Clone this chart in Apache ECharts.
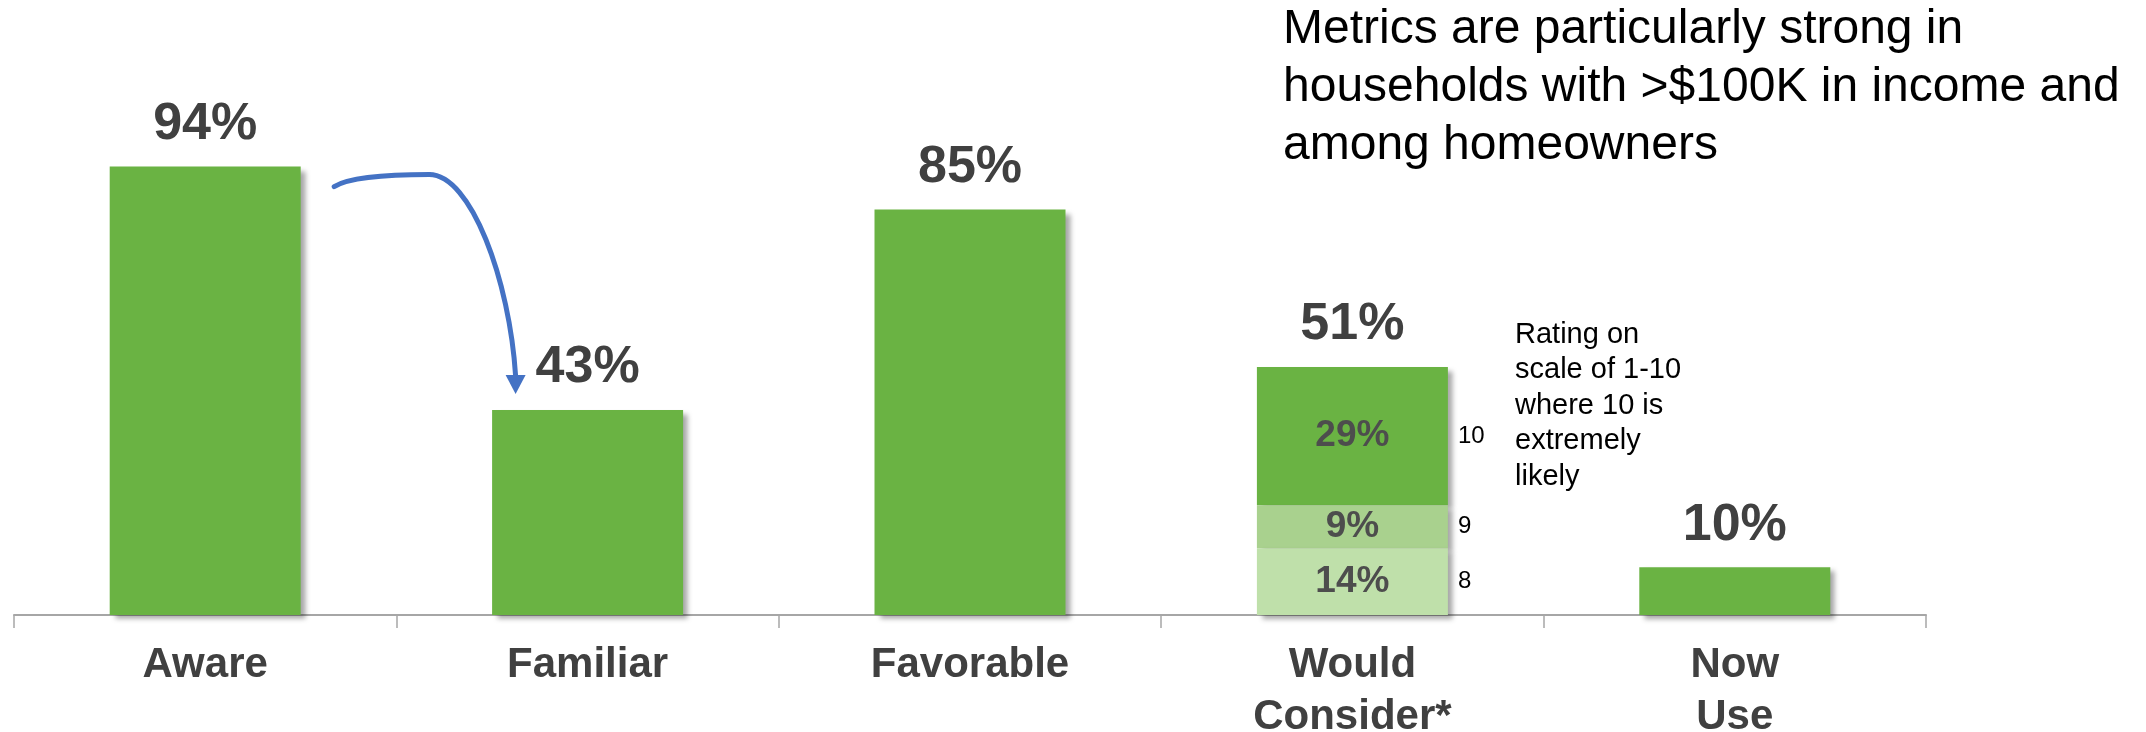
<!DOCTYPE html>
<html>
<head>
<meta charset="utf-8">
<script src="https://cdn.jsdelivr.net/npm/echarts@6/dist/echarts.min.js"></script>
<style>
html,body{margin:0;padding:0;background:#fff;}
#chart{width:2146px;height:732px;}
</style>
</head>
<body>
<div id="chart"></div>
<script>
const categories = ['Aware', 'Familiar', 'Favorable', 'Would\nConsider*', 'Now\nUse'];
const mainValues = [94, 43, 85, '-', 10];
const rating8 = ['-', '-', '-', 14, '-'];
const rating9 = ['-', '-', '-', 9, '-'];
const rating10 = ['-', '-', '-', 29, '-'];
const considerTotal = ['-', '-', '-', 51, '-'];
const ratingNames = ['8', '9', '10'];
const titleText = 'Metrics are particularly strong in\nhouseholds with >$100K in income and\namong homeowners';
const noteText = 'Rating on\nscale of 1-10\nwhere 10 is\nextremely\nlikely';

const FONT = '"Liberation Sans", Arial, Helvetica, sans-serif';
const GREEN = '#6AB343';
const shadow = {shadowColor: 'rgba(0,0,0,0.35)', shadowBlur: 5, shadowOffsetX: 5, shadowOffsetY: 4};
const BW = 191;

const chart = echarts.init(document.getElementById('chart'), null, {renderer: 'canvas'});

function segLabel() {
  return {show: true, position: 'inside', formatter: '{c}%', fontFamily: FONT, fontWeight: 'bold', fontSize: 37, color: '#4d4d4d'};
}
function ratingLabel(name) {
  return {show: true, position: 'right', distance: 10, formatter: name, fontFamily: FONT, fontSize: 24, color: '#000'};
}

const option = {
  animation: false,
  backgroundColor: '#ffffff',
  grid: {left: 14, right: 220, top: 138, bottom: 117, containLabel: false, outerBoundsMode: 'none'},
  xAxis: {
    type: 'category',
    data: categories,
    axisLine: {show: true, lineStyle: {color: '#a6a6a6', width: 2}},
    axisTick: {show: true, length: 13, lineStyle: {color: '#a6a6a6', width: 1.5}},
    axisLabel: {fontFamily: FONT, fontWeight: 'bold', fontSize: 42, lineHeight: 52, color: '#404040', margin: 24, interval: 0}
  },
  yAxis: {type: 'value', min: 0, max: 100, show: false, splitLine: {show: false}},
  series: [
    {
      type: 'bar', name: 'main', data: mainValues, barWidth: BW, barGap: '-100%', z: 2,
      itemStyle: Object.assign({color: GREEN}, shadow),
      label: {show: true, position: 'top', distance: 16, formatter: '{c}%', fontFamily: FONT, fontWeight: 'bold', fontSize: 52, color: '#404040'}
    },
    {
      type: 'bar', name: '8', stack: 'c', data: rating8, barWidth: BW, barGap: '-100%', z: 4,
      itemStyle: Object.assign({color: '#BFE0AA'}, shadow), label: segLabel()
    },
    {
      type: 'bar', name: '9', stack: 'c', data: rating9, barWidth: BW, barGap: '-100%', z: 3,
      itemStyle: Object.assign({color: '#A9D18E'}, shadow), label: segLabel()
    },
    {
      type: 'bar', name: '10', stack: 'c', data: rating10, barWidth: BW, barGap: '-100%', z: 2,
      itemStyle: Object.assign({color: GREEN}, shadow), label: segLabel()
    },
    {
      type: 'bar', name: 'total', stack: 'c', data: considerTotal.map(v => v === '-' ? '-' : 0), barWidth: BW, barGap: '-100%', z: 5,
      itemStyle: {color: 'transparent'},
      label: {show: true, position: 'top', distance: 16, formatter: p => considerTotal[p.dataIndex] + '%', fontFamily: FONT, fontWeight: 'bold', fontSize: 52, color: '#404040'}
    },
    {type: 'bar', name: 'r8', stack: 'r', data: rating8, barWidth: BW, barGap: '-100%', z: 6, itemStyle: {color: 'transparent'}, label: ratingLabel(ratingNames[0])},
    {type: 'bar', name: 'r9', stack: 'r', data: rating9, barWidth: BW, barGap: '-100%', z: 6, itemStyle: {color: 'transparent'}, label: ratingLabel(ratingNames[1])},
    {type: 'bar', name: 'r10', stack: 'r', data: rating10, barWidth: BW, barGap: '-100%', z: 6, itemStyle: {color: 'transparent'}, label: ratingLabel(ratingNames[2])}
  ]
};
chart.setOption(option);

// Annotations positioned relative to the bars via the chart's own scales
const pA = chart.convertToPixel({xAxisIndex: 0, yAxisIndex: 0}, [0, mainValues[0]]);
const pF = chart.convertToPixel({xAxisIndex: 0, yAxisIndex: 0}, [1, mainValues[1]]);
const sx = pA[0] + 129, sy = pA[1] + 20;
const cx = pA[0] + 224, cy = pA[1] + 8;
const ex = pF[0] - 72, ey = pF[1] - 34;
const tipY = pF[1] - 16;
const BLUE = '#4472C4';

chart.setOption({
  graphic: [
    {type: 'bezierCurve', z: 10, shape: {x1: sx, y1: sy, cpx1: sx + 15, cpy1: sy - 9, cpx2: cx - 40, cpy2: cy, x2: cx, y2: cy},
      style: {stroke: BLUE, lineWidth: 5, fill: null, lineCap: 'round'}},
    {type: 'bezierCurve', z: 10, shape: {x1: cx, y1: cy, cpx1: cx + 42, cpy1: cy, cpx2: ex - 6, cpy2: cy + 106, x2: ex, y2: ey},
      style: {stroke: BLUE, lineWidth: 5, fill: null, lineCap: 'butt'}},
    {type: 'polygon', z: 10, shape: {points: [[ex - 10, ey - 1], [ex + 10, ey - 1], [ex, tipY]]}, style: {fill: BLUE}},
    {type: 'text', z: 10, x: 1283, y: 1,
      style: {text: titleText, fontFamily: FONT, fontSize: 48, lineHeight: 58, fill: '#000', verticalAlign: 'top'}},
    {type: 'text', z: 10, x: 1515, y: 317,
      style: {text: noteText, fontFamily: FONT, fontSize: 29, lineHeight: 35.5, fill: '#000', verticalAlign: 'top'}}
  ]
});
</script>
</body>
</html>
